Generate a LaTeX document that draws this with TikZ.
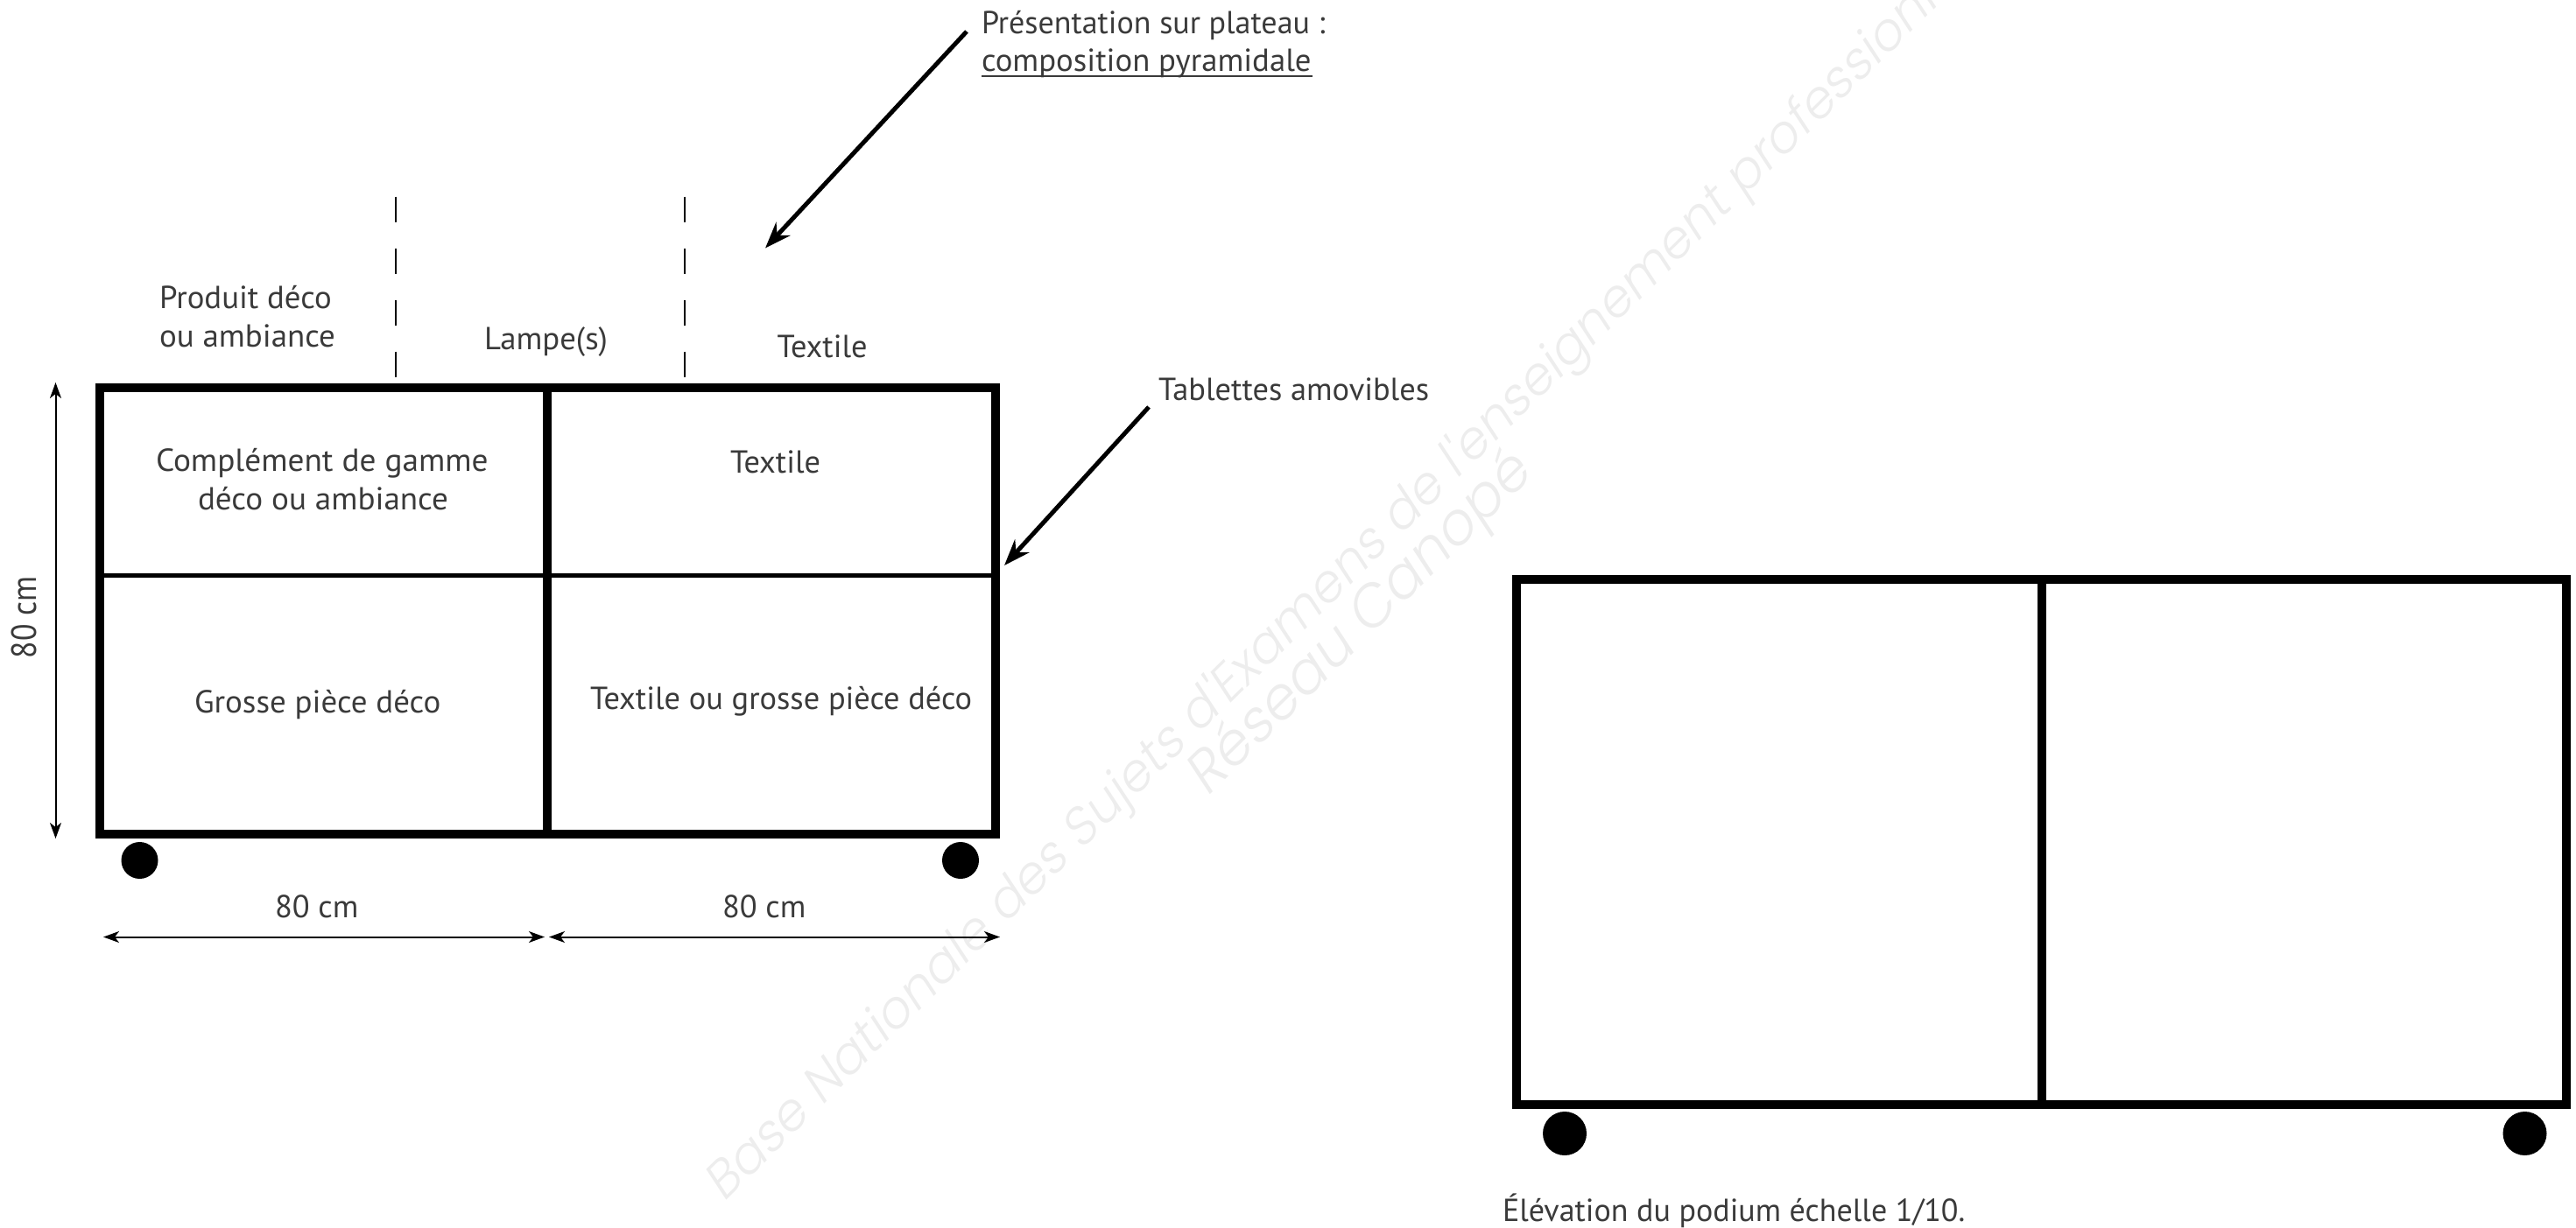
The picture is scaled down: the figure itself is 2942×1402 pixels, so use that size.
\documentclass[tikz,border=0pt]{standalone}
\usepackage{fontspec}
\setmainfont{PT Sans}
\newfontfamily\wmfont{Poppins Light}
\usetikzlibrary{arrows.meta}
\definecolor{inktext}{HTML}{3A3A3A}
\definecolor{wmgrey}{HTML}{EDEDED}
\tikzset{
  x=0.5pt,y=-0.5pt,
  lbl/.style={anchor=base west,inner sep=0pt,outer sep=0pt,text=inktext,font=\fontsize{18.2}{22}\selectfont},
  frame/.style={draw=black,line width=5pt,miter limit=10},
  divider/.style={draw=black,line width=5pt},
  shelf/.style={draw=black,line width=2.5pt},
  guide/.style={draw=black,line width=1pt,dash pattern=on 14.5pt off 15pt},
  wheel/.style={circle,fill=black,inner sep=0pt,outer sep=0pt},
  lead/.style={draw=black,line width=2.5pt,-{Stealth[length=15pt,width=11pt,inset=5pt]}},
  dim/.style={draw=black,line width=1pt,{Stealth[length=9pt,width=6.5pt,inset=2.5pt]}-{Stealth[length=9pt,width=6.5pt,inset=2.5pt]}},
  wm/.style={inner sep=0pt,text=wmgrey,rotate=44.6,anchor=base west},
}
\begin{document}
\begin{tikzpicture}
\path[use as bounding box] (0,0) rectangle (2942,1402);
\begin{scope}
\clip (0,0) rectangle (2942,1402);
\node[wm,font=\wmfont\fontsize{29.3}{32}\selectfont] (wma) at (826,1375) {\addfontfeature{FakeSlant=0.2}Base Nationale des Sujets d'Examens de l'enseignement professionnel};
\node[wm,font=\wmfont\fontsize{33}{35}\selectfont] (wmb) at (1378,912) {\addfontfeature{FakeSlant=0.2}Réseau Canopé};
\end{scope}
% left podium
\coordinate (ltl) at (114,443);
\coordinate (lbr) at (1137,953);
\coordinate (ltm) at (625,443);
\coordinate (lbm) at (625,953);
\coordinate (lsl) at (114,657);
\coordinate (lsr) at (1137,657);
\draw[frame] (ltl) rectangle (lbr);
\draw[divider] (ltm) -- (lbm);
\draw[shelf] (lsl) -- (lsr);
\node[wheel,minimum size=21pt] (lw1) at (159.5,983) {};
\node[wheel,minimum size=21pt] (lw2) at (1097,983) {};
% guides
\coordinate (g1a) at (452,224.5);
\coordinate (g1b) at (452,431);
\coordinate (g2a) at (782,224.5);
\coordinate (g2b) at (782,431);
\draw[guide] (g1a) -- (g1b);
\draw[guide] (g2a) -- (g2b);
% dims
\coordinate (da) at (118,1070.5);
\coordinate (db) at (622,1070.5);
\coordinate (dc) at (627,1070.5);
\coordinate (dd) at (1142,1070.5);
\coordinate (de) at (63.5,437);
\coordinate (df) at (63.5,958);
\draw[dim] (da) -- (db);
\draw[dim] (dc) -- (dd);
\draw[dim] (de) -- (df);
% leaders
\coordinate (a1s) at (1104,36);
\coordinate (a1e) at (874,283.5);
\coordinate (a2s) at (1312,465);
\coordinate (a2e) at (1147,646);
\draw[lead] (a1s) -- (a1e);
\draw[lead] (a2s) -- (a2e);
% labels
\node[lbl] (t1) at (182,352) {\scalebox{1.01}[1]{Produit déco}};
\node[lbl] (t2) at (182,396) {\scalebox{1.015}[1]{ou ambiance}};
\node[lbl] (t3) at (553,399) {\scalebox{1.01}[1]{Lampe(s)}};
\node[lbl] (t4) at (887.5,408) {Textile};
\node[lbl] (t5) at (178,538) {\scalebox{1.025}[1]{Complément de gamme}};
\node[lbl] (t6) at (226,582) {\scalebox{1.02}[1]{déco ou ambiance}};
\node[lbl] (t7) at (834,540) {Textile};
\node[lbl] (t8) at (222,814.5) {\scalebox{1.015}[1]{Grosse pièce déco}};
\node[lbl] (t9) at (674,810.5) {Textile ou grosse pièce déco};
\node[lbl] (t10) at (314,1048) {80 cm};
\node[lbl] (t11) at (825,1048) {80 cm};
\node[lbl,rotate=90] (t12) at (41,752) {\scalebox{0.98}[1.1]{80 cm}};
\node[lbl] (t13) at (1121,38.5) {\scalebox{0.99}[1]{Présentation sur plateau :}};
\node[lbl] (t14) at (1121,82) {\scalebox{1.01}[1]{composition pyramidale}};
\draw[draw=inktext,line width=1pt] (t14.base west)++(0,5) -- ++(378,0);
\node[lbl] (t15) at (1323,457) {Tablettes amovibles};
% right podium
\coordinate (rtl) at (1732,661.5);
\coordinate (rbr) at (2931,1261.5);
\coordinate (rtm) at (2332,661.5);
\coordinate (rbm) at (2332,1261.5);
\draw[frame] (rtl) rectangle (rbr);
\draw[divider] (rtm) -- (rbm);
\node[wheel,minimum size=25pt] (rw1) at (1787,1295) {};
\node[wheel,minimum size=25pt] (rw2) at (2883.5,1295) {};
\node[lbl] (t16) at (1716,1395) {\scalebox{0.99}[1]{Élévation du podium échelle 1/10.}};
\end{tikzpicture}
\end{document}
